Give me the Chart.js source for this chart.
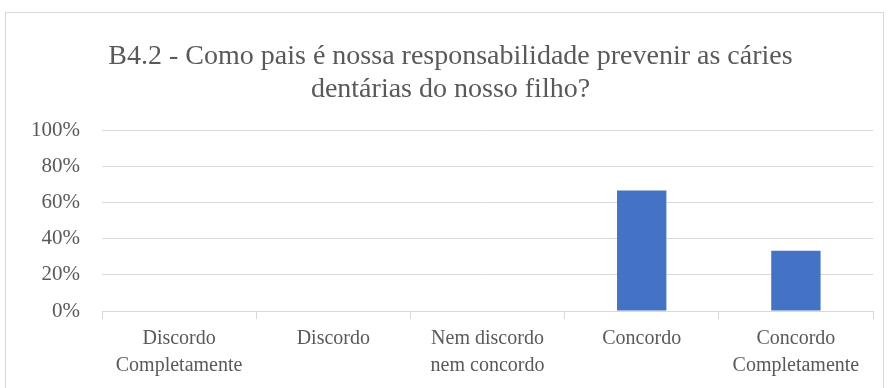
<!DOCTYPE html>
<html><head><meta charset="utf-8">
<script src="https://cdn.jsdelivr.net/npm/chart.js@4"></script>
<style>html,body{margin:0;padding:0;background:#fff;}#wrap{width:889px;height:388px;position:relative;}</style>
</head><body><div id="wrap"><canvas id="c" width="889" height="388"></canvas></div>
<script>
const titleLines = ["B4.2 - Como pais é nossa responsabilidade prevenir as cáries","dentárias do nosso filho?"];
const categories = [["Discordo","Completamente"],"Discordo",["Nem discordo","nem concordo"],"Concordo",["Concordo","Completamente"]];
const values = [0, 0, 0, 0.6667, 0.3333];
const tickStep = 0.2;

Chart.defaults.font.family = "'Liberation Serif', 'Times New Roman', serif";

const borderPlugin = {id:'outerBorder', beforeDraw(chart){const ctx=chart.ctx;ctx.save();ctx.fillStyle='#fff';ctx.fillRect(0,0,chart.width,chart.height);ctx.strokeStyle='#d9d9d9';ctx.lineWidth=1;ctx.strokeRect(5.5,12.5,878,400);ctx.restore();}};

new Chart(document.getElementById('c'),{
  type:'bar',
  data:{labels:categories,datasets:[{data:values,backgroundColor:'#4472c4',barPercentage:0.64,categoryPercentage:0.5}]},
  options:{
    responsive:false,animation:false,
    layout:{padding:{top:40,left:28,right:16,bottom:3}},
    plugins:{legend:{display:false},tooltip:{enabled:false},
      title:{display:true,text:titleLines,color:'#595959',font:{family:"'Liberation Serif', serif",size:28,weight:'normal',lineHeight:1.18},padding:{top:0,bottom:24}}},
    scales:{
      y:{min:0,max:1,afterFit:s=>{s.width=74;},ticks:{stepSize:tickStep,color:'#595959',font:{family:"'Liberation Serif', serif",size:21},padding:22,callback:v=>Math.round(v*100)+'%'},
         grid:{color:'#d9d9d9',drawTicks:false},border:{display:false}},
      x:{afterFit:s=>{s.height=74;},ticks:{color:'#595959',font:{family:"'Liberation Serif', serif",size:20,lineHeight:1.35},padding:6,maxRotation:0,autoSkip:false},
         grid:{drawOnChartArea:false,color:'#d9d9d9',tickLength:8,offset:true},border:{color:'#d9d9d9'}}
    }
  },
  plugins:[borderPlugin]
});
</script></body></html>
